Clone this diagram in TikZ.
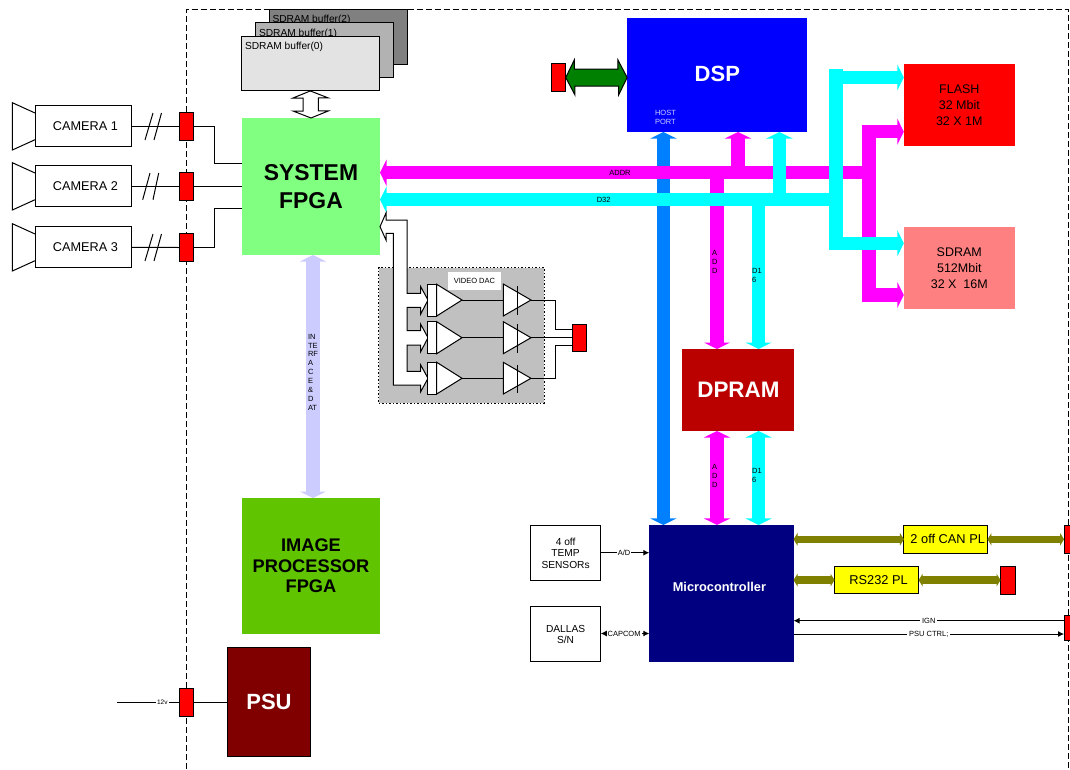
\documentclass[tikz,border=0pt]{standalone}
\usepackage{fontspec}
\setmainfont{Liberation Sans}
\usetikzlibrary{arrows.meta}
\definecolor{camgreen}{HTML}{80FF80}
\definecolor{imggreen}{HTML}{60C400}
\definecolor{psured}{HTML}{800000}
\definecolor{dprred}{HTML}{BB0000}
\definecolor{sdrpink}{HTML}{FF8080}
\definecolor{navyblue}{HTML}{000080}
\definecolor{dspblue}{HTML}{0000FF}
\definecolor{hostblue}{HTML}{0080FF}
\definecolor{ifblue}{HTML}{CCCCFF}
\definecolor{dacgray}{HTML}{C0C0C0}
\definecolor{oliveline}{HTML}{808000}
\definecolor{hostgreen}{HTML}{008000}
\definecolor{addrmag}{HTML}{FF00FF}
\definecolor{datacyan}{HTML}{00FFFF}
\definecolor{purered}{HTML}{FF0000}
\definecolor{pureyellow}{HTML}{FFFF00}
\definecolor{buftwo}{HTML}{808080}
\definecolor{bufone}{HTML}{B2B2B2}
\definecolor{bufzero}{HTML}{E3E3E3}
\tikzset{
  block/.style={inner sep=0pt, outer sep=0pt, align=center},
  outlined/.style={block, draw, line width=1pt, fill=white},
  conn/.style={block, draw, line width=0.8pt, fill=purered, minimum width=14.5, minimum height=27.5},
  wire/.style={line width=1pt},
  bus/.style={line width=13.5pt, >={Triangle[width=26pt,length=6.5pt]}},
  olivebus/.style={line width=7.3pt, oliveline, >={Triangle[width=12.5pt,length=4pt]}},
  thin arrow/.style={line width=1pt, >={Latex[width=6pt,length=6pt]}},
  hollow/.style={draw, line width=1pt, fill=white, line join=miter},
  smalltext/.style={block, font=\fontsize{7.5}{8.9}\selectfont},
  boxtext/.style={font=\fontsize{10.2}{11.4}\selectfont},
  camtext/.style={font=\fontsize{12.7}{16.2}\selectfont},
}
\begin{document}
\begin{tikzpicture}[x=1pt, y=-1pt]
\useasboundingbox (0,0) rectangle (1070,769);
\draw[line width=0.9pt, dash pattern=on 6pt off 3pt] (186,769) -- (186,9.5) -- (1068,9.5) -- (1068,769);

\node[outlined, fill=buftwo, minimum width=138, minimum height=54.5] (buf2) at (338,37) {};
\node[block, boxtext, anchor=west] (buf2text) at (272.5,20) {SDRAM buffer(2)};
\node[outlined, fill=bufone, minimum width=138, minimum height=54.5] (buf1) at (324,50) {};
\node[block, boxtext, anchor=west] (buf1text) at (259,33.5) {SDRAM buffer(1)};
\node[outlined, fill=bufzero, minimum width=138.5, minimum height=54.5] (buf0) at (310.3,63.7) {};
\node[block, boxtext, anchor=west] (buf0text) at (245,46.5) {SDRAM buffer(0)};

\node[block, fill=camgreen, minimum width=138, minimum height=137, font=\bfseries\fontsize{22.9}{28}\selectfont] (sysfpga) at (311,186.5) {SYSTEM\\FPGA};
\node[block, fill=imggreen, minimum width=138, minimum height=136, font=\bfseries\fontsize{18.25}{20.4}\selectfont] (imgfpga) at (311,566) {IMAGE\\PROCESSOR\\FPGA};
\node[outlined, fill=psured, text=white, minimum width=83.5, minimum height=109.5, font=\bfseries\fontsize{22}{26}\selectfont] (psu) at (269,702) {PSU};
\node[block, fill=dspblue, text=white, minimum width=180.3, minimum height=114, font=\bfseries\fontsize{22}{26}\selectfont] (dsp) at (717.3,75) {\raisebox{3pt}{DSP}};
\node[block, fill=purered, minimum width=111, minimum height=82, font=\fontsize{12.5}{16.2}\selectfont] (flash) at (959.3,105) {FLASH\\32 Mbit\\32 X  1M};
\node[block, fill=sdrpink, minimum width=111, minimum height=82, font=\fontsize{12.5}{16.2}\selectfont] (sdram) at (959.3,268) {SDRAM\\512Mbit\\32 X\ \ 16M};
\node[block, fill=dprred, text=white, minimum width=112, minimum height=82, font=\bfseries\fontsize{22.4}{26}\selectfont] (dpram) at (738.4,390) {DPRAM};
\node[block, fill=navyblue, text=white, minimum width=144.2, minimum height=136.7, font=\bfseries\fontsize{12.8}{15}\selectfont] (micro) at (721.4,593.3) {\raisebox{13pt}{Microcontroller}\hspace*{4pt}};
\node[outlined, minimum width=70.3, minimum height=55.4, boxtext] (temp) at (565.6,553) {4 off\\TEMP\\SENSORs};
\node[outlined, minimum width=70.3, minimum height=54.7, boxtext] (dallas) at (565.6,634.3) {DALLAS\\S/N};

\node[conn] (conncam1) at (186.6,126.3) {};
\node[conn] (conncam2) at (186.6,186.3) {};
\node[conn] (conncam3) at (186.6,247.5) {};
\node[conn] (connpsu) at (186.3,702.3) {};
\node[conn, minimum height=28.4] (conndsp) at (558.5,77.5) {};
\node[conn, minimum height=27.4] (connvid) at (579.5,338) {};
\node[conn, minimum height=28] (conncan) at (1071.3,539.3) {};
\node[conn, minimum height=27.7] (connrs) at (1007.8,580.1) {};
\node[conn, minimum height=24.3] (connign) at (1071.3,627.8) {};

\node[outlined, minimum width=96.7, minimum height=41.3, camtext] (cam1) at (83.4,126.3) {\hspace*{4pt}CAMERA 1};
\node[outlined, minimum width=96.7, minimum height=41.3, camtext] (cam2) at (83.4,186.3) {\hspace*{4pt}CAMERA 2};
\node[outlined, minimum width=96.7, minimum height=41.3, camtext] (cam3) at (83.4,247.3) {\hspace*{4pt}CAMERA 3};
\draw[wire] (cam1.west) ++(0,-13.3) -- ++(-22.7,-10.3) -- ++(0,47.3) -- ++(22.7,-10.3);
\draw[wire] (cam2.west) ++(0,-13.3) -- ++(-22.7,-10.3) -- ++(0,47.3) -- ++(22.7,-10.3);
\draw[wire] (cam3.west) ++(0,-13.3) -- ++(-22.7,-10.3) -- ++(0,47.3) -- ++(22.7,-10.3);

\draw[wire] (cam1.east) -- (conncam1.west);
\draw[wire] (cam2.east) -- (conncam2.west);
\draw[wire] (cam3.east) -- (conncam3.west);
\draw[wire] (145,140) -- (153,113) (154,140) -- (161.5,113);
\draw[wire] (142.7,199.7) -- (150,173) (153,199.7) -- (158.7,173);
\draw[wire] (145,261) -- (153,234) (154,261) -- (161.5,234);
\draw[wire] (conncam1.east) -- (214,126.3) |- (sysfpga.west |- 0,163.3);
\draw[wire] (conncam2.east) -- (sysfpga.west |- conncam2);
\draw[wire] (conncam3.east) -- (214,247.5) |- (sysfpga.west |- 0,208.3);
\draw[wire] (connpsu.east) -- (psu.west |- connpsu);
\coordinate (psuin) at (117,702.3);
\draw[wire] (psuin) -- (connpsu.west) node[pos=0.73, smalltext, fill=white, font=\fontsize{6.5}{8}\selectfont, inner xsep=1.5pt] (psulabel) {12v};

\draw[hollow] (buf0.south) -- ++(18,7) -- ++(-10,0) -- ++(0,13) -- ++(10,0) -- (sysfpga.north) -- ++(-18,-7) -- ++(10,0) -- ++(0,-13) -- ++(-10,0) -- cycle;
\draw[hollow, fill=hostgreen] (conndsp.east) -- ++(8.5,-17.5) -- ++(0,9) -- ++(43.7,0) -- ++(0,-9) -- (conndsp.east -| dsp.west) -- ++(-8.5,17.5) -- ++(0,-9) -- ++(-43.7,0) -- ++(0,9) -- cycle;

\draw[bus, <->, ifblue] (sysfpga.south -| 313,0) -- (imgfpga.north -| 313,0);
\node[smalltext, align=left, anchor=north west] (iflabel) at (308,334) {IN\\TE\\RF\\A\\C\\E\\\&\\D\\AT};

\coordinate (hostx) at (663.4,0);
\coordinate (addrright) at (869,172.7);
\coordinate (addrtap) at (738,172.7);
\coordinate (addrdown) at (717,172.7);
\coordinate (d32right) at (835.6,199.7);
\coordinate (d32tap) at (779.4,199.7);
\coordinate (d32down) at (758.6,199.7);

\draw[bus, <->, hostblue] (dsp.south -| hostx) -- (micro.north -| hostx);
\draw[bus, ->, addrmag] (addrright) -- (addrright -| sysfpga.east);
\draw[bus, ->, addrmag] (addrtap) -- (addrtap |- dsp.south);
\draw[bus, ->, addrmag] (addrdown) -- (addrdown |- dpram.north);
\draw[bus, <->, addrmag] (dpram.south -| addrdown) -- (micro.north -| addrdown);
\draw[bus, ->, addrmag] (869,131.7) -- (flash.west |- 0,131.7);
\draw[bus, ->, addrmag] (869,295) -- (sdram.west |- 0,295);
\draw[line width=14pt, addrmag] (869,125) -- (869,301.7);
\draw[bus, ->, datacyan] (d32right) -- (d32right -| sysfpga.east);
\draw[bus, ->, datacyan] (d32tap) -- (d32tap |- dsp.south);
\draw[bus, ->, datacyan] (d32down) -- (d32down |- dpram.north);
\draw[bus, <->, datacyan] (dpram.south -| d32down) -- (micro.north -| d32down);
\draw[bus, ->, datacyan] (835.6,77.5) -- (flash.west |- 0,77.5);
\draw[bus, ->, datacyan] (835.6,243.3) -- (sdram.west |- 0,243.3);
\draw[line width=14pt, datacyan] (835.6,69) -- (835.6,250);

\node[smalltext] (addrlabel) at (620,172.5) {ADDR};
\node[smalltext] (d32label) at (603.7,199.5) {D32};
\node[smalltext] (addlabel) at (714.7,262) {A\\D\\D};
\node[smalltext, align=left] (d16label) at (757,275.5) {D1\\6};
\node[smalltext] (addlabelb) at (714.7,476) {A\\D\\D};
\node[smalltext, align=left] (d16labelb) at (757,475.5) {D1\\6};
\node[smalltext, text=ifblue, align=left, anchor=west] (hostlabel) at (655,117.5) {HOST\\PORT};

\node[block, fill=dacgray, draw, line width=1pt, dash pattern=on 1.5pt off 2pt, minimum width=165.3, minimum height=135.3] (dacbox) at (461.4,335.4) {};
\node[block, fill=white, minimum width=52.7, minimum height=18, font=\fontsize{7.5}{9}\selectfont] (daclabel) at (474.4,281) {VIDEO DAC};
\draw[hollow] (sysfpga.east |- 0,226.7) -- (386,213) -- (386,220) -- (407,220) -- (407,293.3) -- (420.7,293.3) -- (420.7,286.7) -- (428,300) -- (420.7,314) -- (420.7,307.3) -- (407,307.3) -- (407,330.7) -- (420.7,330.7) -- (420.7,324.3) -- (428,337.7) -- (420.7,351.7) -- (420.7,345) -- (407,345) -- (407,371.3) -- (420.7,371.3) -- (420.7,365) -- (428,378.3) -- (420.7,391.7) -- (420.7,385) -- (393.3,385) -- (393.3,233.3) -- (386,233.3) -- (386,240) -- cycle;
\node[outlined, minimum width=9, minimum height=31.7] (dacreg1) at (432.2,300.2) {};
\node[outlined, minimum width=9, minimum height=32] (dacreg2) at (432.2,337.7) {};
\node[outlined, minimum width=9, minimum height=31.7] (dacreg3) at (432.2,378.2) {};
\draw[hollow] (dacreg1.east |- 0,284.3) -- (462,300) -- (dacreg1.east |- 0,316) -- cycle;
\draw[hollow] (dacreg2.east |- 0,321.7) -- (462,337.7) -- (dacreg2.east |- 0,353.7) -- cycle;
\draw[hollow] (dacreg3.east |- 0,362.3) -- (462,378.3) -- (dacreg3.east |- 0,394) -- cycle;
\draw[hollow] (503.3,284) -- (531,300) -- (503.3,316) -- cycle;
\draw[hollow] (503.3,321.7) -- (531,337.7) -- (503.3,353.7) -- cycle;
\draw[hollow] (503.3,362.3) -- (531,378.3) -- (503.3,394) -- cycle;
\draw[wire] (517.3,286) -- (517.3,315);
\draw[wire] (517.3,324) -- (517.3,353);
\draw[wire] (517.3,365) -- (517.3,393);
\draw[wire] (462,300) -- (503.3,300);
\draw[wire] (462,337.7) -- (503.3,337.7);
\draw[wire] (462,378.3) -- (503.3,378.3);
\draw[wire] (531,300) -- (555,300) |- (connvid.west |- 0,329.3);
\draw[wire] (531,337.7) -- (connvid.west |- 0,337.7);
\draw[wire] (531,378.3) -- (555,378.3) |- (connvid.west |- 0,345.5);

\node[outlined, fill=pureyellow, minimum width=83.5, minimum height=28, font=\fontsize{12.8}{15}\selectfont] (can) at (945.7,539.3) {\hspace*{4pt}2 off CAN PL};
\node[outlined, fill=pureyellow, minimum width=84, minimum height=27.7, font=\fontsize{12.8}{15}\selectfont] (rs) at (876.6,580.1) {\hspace*{4pt}RS232 PL};
\draw[thin arrow, ->] (temp.east |- 0,552.7) -- (micro.west |- 0,552.7) node[pos=0.48, smalltext, fill=white, inner xsep=1pt] (adlabel) {A/D};
\draw[thin arrow, <->] (dallas.east |- 0,633.5) -- (micro.west |- 0,633.5) node[pos=0.48, smalltext, fill=white, inner xsep=1pt, inner ysep=1pt] (capcomlabel) {CAPCOM};
\draw[olivebus, <->] (micro.east |- can) -- (can.west);
\draw[olivebus, <->] (can.east) -- (conncan.west);
\draw[olivebus, <->] (micro.east |- rs) -- (rs.west);
\draw[olivebus, <->] (rs.east) -- (connrs.west);
\draw[thin arrow, ->] (connign.west |- 0,620.7) -- (micro.east |- 0,620.7) node[pos=0.5, smalltext, fill=white, inner xsep=2pt] (ignlabel) {IGN};
\draw[thin arrow, ->] (micro.east |- 0,634) -- (connign.west |- 0,634) node[pos=0.5, smalltext, fill=white, inner xsep=2pt] (psuctrl) {PSU CTRL;};
\end{tikzpicture}
\end{document}
